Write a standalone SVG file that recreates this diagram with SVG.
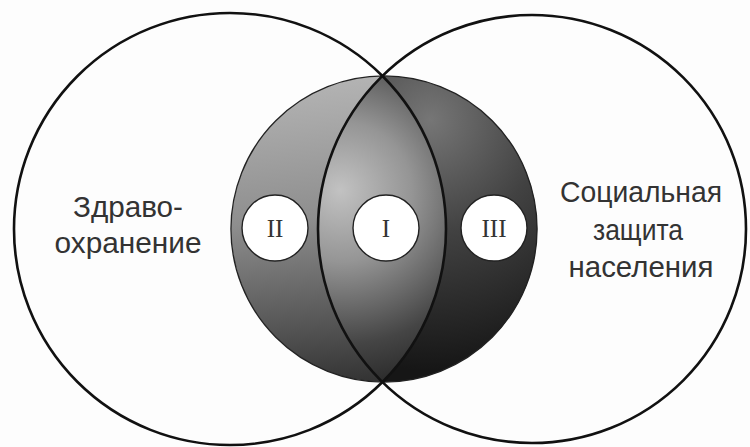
<svg xmlns="http://www.w3.org/2000/svg" width="750" height="447" viewBox="0 0 750 447">
  <style>
    .big { fill: none; stroke: #111; stroke-width: 2.6; }
    .label { font-family: "Liberation Sans", "DejaVu Sans", sans-serif; font-size: 30px; fill: #333; text-anchor: middle; }
    .zone { fill: #fff; stroke: #222; stroke-width: 1.4; }
    .num { font-family: "Liberation Serif", "DejaVu Serif", serif; font-size: 25px; fill: #333; text-anchor: middle; }
  </style>
  <defs>
    <linearGradient id="gII" gradientUnits="userSpaceOnUse" x1="300" y1="80" x2="330" y2="385">
      <stop offset="0" stop-color="#b4b4b4"/>
      <stop offset="0.45" stop-color="#8e8e8e"/>
      <stop offset="0.8" stop-color="#555"/>
      <stop offset="1" stop-color="#333"/>
    </linearGradient>
    <radialGradient id="gI" gradientUnits="userSpaceOnUse" cx="345" cy="195" r="200" fx="340" fy="190">
      <stop offset="0" stop-color="#c2c2c2"/>
      <stop offset="0.35" stop-color="#959595"/>
      <stop offset="0.75" stop-color="#454545"/>
      <stop offset="1" stop-color="#262626"/>
    </radialGradient>
    <radialGradient id="gIII" gradientUnits="userSpaceOnUse" cx="430" cy="120" r="250">
      <stop offset="0" stop-color="#767676"/>
      <stop offset="0.45" stop-color="#424242"/>
      <stop offset="1" stop-color="#161616"/>
    </radialGradient>
  </defs>

  <rect x="0" y="0" width="750" height="447" fill="#fdfdfd"/>

  <g id="core">
    <path d="M 382.42 75.95 A 153.06 153.06 0 0 0 382.42 382.05 A 214 214 0 0 1 382.42 75.95 Z" fill="url(#gII)"/>
    <path d="M 382.42 75.95 A 214 214 0 0 0 382.42 382.05 A 216 216 0 0 0 382.42 75.95 Z" fill="url(#gI)"/>
    <path d="M 382.42 75.95 A 153.06 153.06 0 1 1 382.42 382.05 A 216 216 0 0 0 382.42 75.95 Z" fill="url(#gIII)"/>
    <circle cx="384" cy="229" r="153.06" fill="none" stroke="#222" stroke-width="1.3"/>
  </g>

  <g id="health">
    <circle class="big" cx="230" cy="229" r="216"/>
    <text class="label" x="128" y="217" textLength="110" lengthAdjust="spacingAndGlyphs">Здраво-</text>
    <text class="label" x="128" y="253" textLength="147" lengthAdjust="spacingAndGlyphs">охранение</text>
  </g>

  <g id="social">
    <circle class="big" cx="532" cy="229" r="214"/>
    <text class="label" x="641" y="202" textLength="162" lengthAdjust="spacingAndGlyphs">Социальная</text>
    <text class="label" x="638" y="240" textLength="90" lengthAdjust="spacingAndGlyphs">защита</text>
    <text class="label" x="641" y="277" textLength="145" lengthAdjust="spacingAndGlyphs">населения</text>
  </g>

  <g id="zone-II">
    <circle class="zone" cx="275" cy="228" r="33"/>
    <text class="num" x="275" y="237">II</text>
  </g>
  <g id="zone-I">
    <circle class="zone" cx="386" cy="228" r="33"/>
    <text class="num" x="386" y="237">I</text>
  </g>
  <g id="zone-III">
    <circle class="zone" cx="494" cy="228" r="33"/>
    <text class="num" x="494" y="237">III</text>
  </g>
</svg>
